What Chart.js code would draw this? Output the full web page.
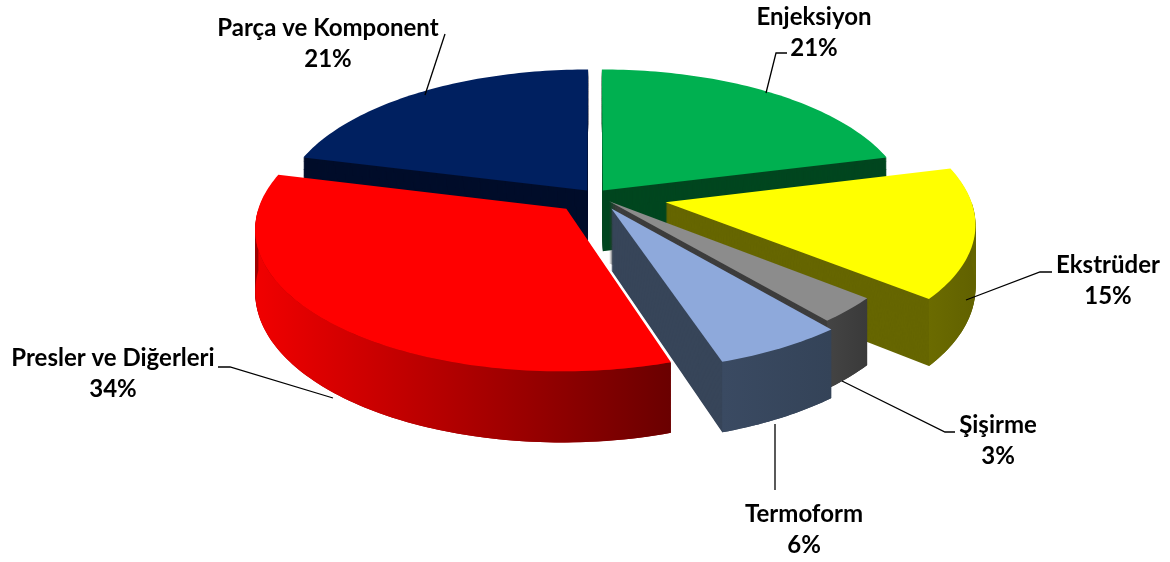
<!DOCTYPE html>
<html>
<head>
<meta charset="utf-8">
<script src="https://cdn.jsdelivr.net/npm/chart.js@4.4.1/dist/chart.umd.min.js"></script>
<style>
  html, body { margin: 0; padding: 0; background: #fff; }
  canvas { display: block; }
</style>
</head>
<body>
<canvas id="pie" width="1170" height="562"></canvas>
<script>
// data, clockwise from 12 o'clock
const categories = ["Enjeksiyon", "Ekstrüder", "Şişirme", "Termoform", "Presler ve Diğerleri", "Parça ve Komponent"];
const shares = [21, 15, 3, 6, 34, 21];

// styles
const topColors = ["#00B050", "#FFFF00", "#8C8C8C", "#8EA9DB", "#FF0000", "#002060"];
const sideColors = ["#00461F", "#666600", "#3D3D3D", "#374559", "#A00000", "#000D2A"];
const wallColors = [
  ["#00461F", "#00461F"],
  ["#6B6B00", "#626200"],
  ["#444444", "#3A3A3A"],
  ["#3A4A62", "#344358"],
  ["#F00000", "#6A0000"],
  ["#000D2A", "#000D2A"]
];
// how far each slice is pulled out, as a share of the radius
const explode = [0.042, 0.236, 0.065, 0.11, 0.136, 0.042];

// label layout: centre x, first baseline, leader line
const labelSpots = [
  { x: 814, y: 25, line: [[787, 53], [776, 53], [766, 93]] },
  { x: 1108, y: 273, line: [[1052, 272], [1040, 272], [966, 300]] },
  { x: 998, y: 433, line: [[955, 432], [945, 432], [842, 381]] },
  { x: 804, y: 522, line: [[775, 490], [775, 424]] },
  { x: 113, y: 366, line: [[218, 367], [230, 367], [333, 398]] },
  { x: 328, y: 36, line: [[445, 34], [425, 95]] }
];

// seen from above and in front: half axes, perspective, wall height
const view = { rx: 304, ry: 137.7, persp: 0.129, depth: 61 };

function midAngle(arc) {
  return (arc.startAngle + arc.endAngle) / 2;
}

// chart point of slice i -> screen point, d pixels down the wall
function place(arc, i, x, y, d) {
  const m = midAngle(arc);
  const u = (x - arc.x) / arc.outerRadius + explode[i] * Math.cos(m);
  const v = (y - arc.y) / arc.outerRadius + explode[i] * Math.sin(m);
  const w = 1 - view.persp * v;
  return { x: arc.x + view.rx * u / w, y: arc.y + (view.ry * v + d) / w };
}

// a stand-in context: the arc element draws its own path, we bend it
function projected(ctx, map, color) {
  let ox = 0, oy = 0, fillColor = "#000";
  const stack = [];
  const to = (x, y) => map(x + ox, y + oy);
  const api = {
    save() { stack.push([ox, oy]); },
    restore() { const s = stack.pop(); if (s) { ox = s[0]; oy = s[1]; } },
    translate(dx, dy) { ox += dx; oy += dy; },
    beginPath() { ctx.beginPath(); },
    closePath() { ctx.closePath(); },
    moveTo(x, y) { const p = to(x, y); ctx.moveTo(p.x, p.y); },
    lineTo(x, y) { const p = to(x, y); ctx.lineTo(p.x, p.y); },
    arc(x, y, r, a0, a1, ccw) {
      if (![x, y, r, a0, a1].every(Number.isFinite)) return;
      if (r <= 0) { api.lineTo(x, y); return; }
      let sweep = a1 - a0;
      if (!ccw && sweep < 0) sweep += 2 * Math.PI;
      if (ccw && sweep > 0) sweep -= 2 * Math.PI;
      const n = Math.max(2, Math.ceil(Math.abs(sweep) / 0.02));
      for (let k = 0; k <= n; k++) {
        const a = a0 + sweep * k / n;
        api.lineTo(x + r * Math.cos(a), y + r * Math.sin(a));
      }
    },
    fill() { ctx.fillStyle = color || fillColor; ctx.fill(); },
    stroke() {}
  };
  return new Proxy(api, {
    get: (t, k) => (k in t ? t[k] : () => {}),
    set: (t, k, val) => { if (k === "fillStyle") fillColor = val; return true; }
  });
}

function drawBody(ctx, arc, i) {
  for (let d = view.depth; d > 0; d--) {
    arc.draw(projected(ctx, (x, y) => place(arc, i, x, y, d), sideColors[i]));
  }
}

function drawWall(ctx, arc, i) {
  const a0 = Math.max(arc.startAngle, 0);
  const a1 = Math.min(arc.endAngle, Math.PI);
  if (a1 <= a0) return;
  const steps = 80;
  const r = arc.outerRadius;
  const top = [];
  const bottom = [];
  for (let k = 0; k <= steps; k++) {
    const a = a0 + (a1 - a0) * k / steps;
    const x = arc.x + r * Math.cos(a);
    const y = arc.y + r * Math.sin(a);
    top.push(place(arc, i, x, y, 0));
    bottom.push(place(arc, i, x, y, view.depth));
  }
  const left = Math.min(top[0].x, top[steps].x);
  const right = Math.max(top[0].x, top[steps].x);
  const grad = ctx.createLinearGradient(left, 0, right, 0);
  grad.addColorStop(0, wallColors[i][0]);
  grad.addColorStop(1, wallColors[i][1]);
  ctx.fillStyle = grad;
  ctx.beginPath();
  top.forEach((p, k) => (k ? ctx.lineTo(p.x, p.y) : ctx.moveTo(p.x, p.y)));
  for (let k = steps; k >= 0; k--) {
    ctx.lineTo(bottom[k].x, bottom[k].y);
  }
  ctx.closePath();
  ctx.fill();
}

const pie3d = {
  id: "pie3d",
  beforeDatasetsDraw(chart) {
    const ctx = chart.ctx;
    const arcs = chart.getDatasetMeta(0).data;
    const order = arcs
      .map((a, i) => i)
      .sort((p, q) => Math.sin(midAngle(arcs[p])) - Math.sin(midAngle(arcs[q])));
    ctx.save();
    order.forEach((i) => {
      const arc = arcs[i];
      drawBody(ctx, arc, i);
      drawWall(ctx, arc, i);
      arc.draw(projected(ctx, (x, y) => place(arc, i, x, y, 0)));
    });
    ctx.restore();
    return false;
  }
};

const sliceLabels = {
  id: "sliceLabels",
  afterDraw(chart) {
    const ctx = chart.ctx;
    ctx.save();
    ctx.strokeStyle = "#000";
    ctx.lineWidth = 1.3;
    ctx.fillStyle = "#000";
    ctx.font = "bold 24px Lato";
    ctx.textAlign = "center";
    labelSpots.forEach((spot, i) => {
      ctx.beginPath();
      spot.line.forEach((p, k) => (k ? ctx.lineTo(p[0], p[1]) : ctx.moveTo(p[0], p[1])));
      ctx.stroke();
      ctx.fillText(categories[i], spot.x, spot.y);
      ctx.fillText(shares[i] + "%", spot.x, spot.y + 31);
    });
    ctx.restore();
  }
};

new Chart(document.getElementById("pie"), {
  type: "pie",
  data: {
    labels: categories,
    datasets: [{
      data: shares,
      backgroundColor: topColors,
      borderWidth: 0
    }]
  },
  options: {
    responsive: false,
    animation: false,
    events: [],
    radius: 150,
    layout: { padding: { left: 20, right: 0, top: 0, bottom: 172 } },
    plugins: {
      legend: { display: false },
      tooltip: { enabled: false }
    }
  },
  plugins: [pie3d, sliceLabels]
});
</script>
</body>
</html>
